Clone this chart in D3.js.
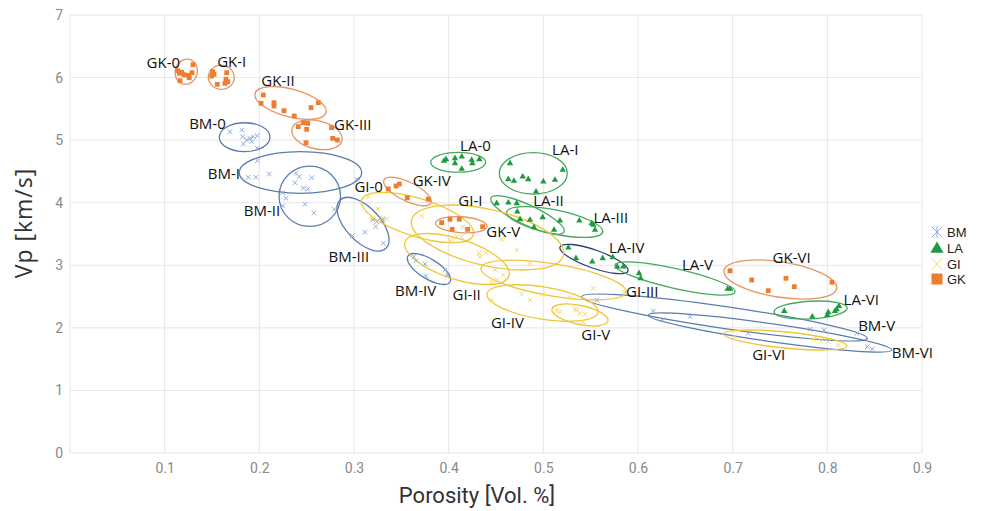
<!DOCTYPE html>
<html><head><meta charset="utf-8">
<script src="https://cdn.jsdelivr.net/npm/d3@7"></script>
<style>body{margin:0;background:#fff}svg{display:block}</style>
</head><body><svg id="c" width="981" height="511"></svg>
<script>
// ---- data ----
const xTicks = [0.1,0.2,0.3,0.4,0.5,0.6,0.7,0.8,0.9];
const yTicks = [0,1,2,3,4,5,6,7];
const seriesNames = ["BM","LA","GI","GK"];

const bmPoints = [
 [0.1690,5.135],[0.1814,5.162],[0.1824,5.055],[0.1866,5.002],[0.1901,5.029],[0.1936,5.055],[0.1979,5.071],[0.1831,4.938],[0.1919,4.975],[0.1979,4.870],
 [0.1979,4.672],[0.1883,4.406],[0.1965,4.406],[0.2105,4.459],[0.3029,4.374],
 [0.2387,4.470],[0.2422,4.416],[0.2377,4.320],[0.2464,4.230],[0.2511,4.214],[0.2553,4.400],[0.2247,4.160],[0.2282,4.071],[0.2247,3.947],[0.2482,3.975],[0.2577,3.840],[0.2792,3.895],
 [0.3198,3.724],[0.3240,3.697],[0.3303,3.724],[0.3229,3.617],[0.3116,3.527],[0.2982,3.473],[0.3310,3.351],
 [0.3634,3.137],[0.3655,3.073],[0.3750,3.021],[0.3961,2.925],[0.3986,2.845],[0.3757,2.829],
 [0.5564,2.445],[0.6162,2.269],[0.6257,2.126],[0.6549,2.178],[0.7165,1.913],[0.7817,1.977],[0.7965,1.966],[0.8310,1.913],[0.8422,1.699],[0.8475,1.662]
];
const laPoints = [
 [0.3951,4.667],[0.3972,4.694],[0.4067,4.710],[0.4067,4.630],[0.4138,4.735],[0.4243,4.683],[0.4250,4.630],[0.4324,4.694],[0.4138,4.539],
 [0.4648,4.630],[0.4630,4.374],[0.4690,4.347],[0.4782,4.416],[0.4841,4.374],[0.5000,4.336],[0.5123,4.363],[0.5205,4.523],[0.4923,4.176],
 [0.4507,3.991],[0.4630,4.000],[0.4719,3.991],[0.4725,3.856],[0.4754,3.735],[0.4859,3.724],[0.4901,3.607],[0.4993,3.767],[0.5113,3.564],
 [0.5176,3.713],[0.5380,3.713],[0.5511,3.671],[0.5528,3.644],[0.5546,3.564],
 [0.5264,3.281],[0.5345,3.112],[0.5517,3.057],[0.5627,3.112],[0.5733,3.128],[0.5781,2.977],[0.5845,2.977],
 [0.6011,2.872],[0.6028,2.792],[0.6947,2.621],[0.6972,2.621],
 [0.7545,2.269],[0.7841,2.178],[0.8000,2.205],[0.8010,2.249],[0.8081,2.269],[0.8099,2.297],[0.8123,2.349]
];
const giPoints = [
 [0.3151,4.096],[0.3198,3.751],[0.3303,3.751],[0.3345,3.735],[0.3254,3.900],
 [0.3715,3.788],[0.4032,3.377],[0.4085,3.457],[0.4138,3.457],[0.4190,3.564],[0.4014,3.393],[0.4560,3.415],[0.4719,3.244],[0.4859,3.021],[0.4148,3.607],
 [0.4324,3.192],[0.4331,3.137],[0.4394,3.201],[0.4489,2.925],[0.4577,2.845],[0.4507,2.765],[0.4455,2.738],
 [0.5528,2.632],[0.5852,2.578],[0.5282,2.482],
 [0.4455,2.445],[0.4771,2.536],[0.4859,2.445],[0.4993,2.536],[0.5141,2.274],
 [0.5335,2.297],[0.5352,2.285],[0.5387,2.233],[0.5440,2.217],[0.5416,2.098],[0.5176,2.258],
 [0.7024,1.849],[0.7852,1.817],[0.7930,1.795],[0.8010,1.779],[0.8116,1.726]
];
const gkPoints = [
 [0.1138,6.110],[0.1155,6.068],[0.1180,6.084],[0.1204,6.046],[0.1250,6.036],[0.1260,5.998],[0.1289,6.078],[0.1299,6.206],[0.1162,5.950],
 [0.1507,6.094],[0.1521,6.052],[0.1497,6.025],[0.1556,5.893],[0.1655,6.078],[0.1648,5.972],[0.1666,5.934],[0.1637,5.908],
 [0.2042,5.722],[0.2018,5.589],[0.2155,5.598],[0.2155,5.546],[0.2261,5.471],[0.2369,5.386],[0.2546,5.519],[0.2623,5.598],
 [0.2412,5.215],[0.2464,5.279],[0.2511,5.269],[0.2500,5.173],[0.2764,5.199],[0.2775,5.029],[0.2824,5.002],[0.2493,4.959],
 [0.3362,4.219],[0.3444,4.267],[0.3479,4.299],[0.3563,4.080],[0.3785,4.059],
 [0.3926,3.681],[0.4014,3.735],[0.4112,3.735],[0.4038,3.575],[0.4201,3.575],[0.4359,3.617],
 [0.6972,2.913],[0.7201,2.765],[0.7376,2.594],[0.7563,2.792],[0.7651,2.658],[0.8049,2.728]
];

// ellipses: [x1, y1, x2, y2, minor/major ratio] (major-axis endpoints in data units)
const ellipseGroups = ["BM","BM","BM","BM","BM","BM","BM","LA","LA","LA","LA","LA","LA","LA","GI","GI","GI","GI","GI","GI","GI","GK","GK","GK","GK","GK","GK","GK"];
const ellipseNames = ["BM-0","BM-I","BM-II","BM-III","BM-IV","BM-V","BM-VI","LA-0","LA-I","LA-II","LA-III","LA-IV","LA-V","LA-VI","GI-0","GI-I","GI-II","GI-III","GI-IV","GI-V","GI-VI","GK-0","GK-I","GK-II","GK-III","GK-IV","GK-V","GK-VI"];
const ellipseAxes = [
 [0.1577,5.047,0.2113,5.047,0.57],
 [0.1788,4.483,0.3081,4.483,0.34],
 [0.2208,4.103,0.2858,4.103,0.98],
 [0.2852,4.043,0.3338,3.271,0.51],
 [0.3570,3.148,0.4014,2.733,0.40],
 [0.5405,2.498,0.8422,1.833,0.076],
 [0.6109,2.205,0.8680,1.646,0.073],
 [0.3810,4.646,0.4391,4.646,0.36],
 [0.4535,4.470,0.5253,4.470,0.61],
 [0.4447,4.075,0.5218,3.532,0.25],
 [0.4613,3.852,0.5627,3.532,0.245],
 [0.5176,3.292,0.5894,2.909,0.25],
 [0.5757,3.005,0.7025,2.573,0.16],
 [0.7437,2.253,0.8210,2.317,0.24],
 [0.3081,4.043,0.4260,3.484,0.325],
 [0.3609,3.724,0.5211,3.164,0.36],
 [0.3539,3.372,0.4637,2.829,0.366],
 [0.4342,2.957,0.5873,2.573,0.218],
 [0.4405,2.541,0.5577,2.253,0.285],
 [0.5091,2.301,0.5683,2.110,0.33],
 [0.6908,1.902,0.8208,1.710,0.13],
 [0.1262,6.289,0.1194,5.897,0.87],
 [0.1463,6.041,0.1733,5.969,0.93],
 [0.1954,5.745,0.2704,5.442,0.38],
 [0.2345,5.178,0.2873,4.994,0.55],
 [0.3317,4.363,0.3813,3.996,0.36],
 [0.3861,3.676,0.4405,3.620,0.31],
 [0.6908,2.913,0.8099,2.632,0.31]
];
// label anchor (centre of the text) in data units
const labelText = ["GK-0","GK-I","GK-II","GK-III","BM-0","BM-I","BM-II","BM-III","GI-0","GK-IV","LA-0","LA-I","GI-I","LA-II","LA-III","GK-V","LA-IV","LA-V","GI-III","GI-V","BM-IV","GI-II","GI-IV","GK-VI","LA-VI","BM-V","BM-VI","GI-VI"];
const labelX = [0.0986,0.1708,0.2197,0.2987,0.1452,0.1625,0.2028,0.2945,0.3155,0.3821,0.4283,0.5232,0.4229,0.5055,0.5713,0.4577,0.5881,0.6628,0.6045,0.5554,0.3650,0.4190,0.4621,0.7623,0.8358,0.8521,0.8899,0.7381];
const labelY = [6.241,6.260,5.948,5.245,5.261,4.462,3.876,3.145,4.256,4.363,4.910,4.843,4.035,4.035,3.769,3.540,3.284,3.005,2.589,1.899,2.597,2.533,2.090,3.124,2.458,2.033,1.606,1.579];

// ---- drawing ----
const svg = d3.select("#c");
const x = d3.scaleLinear().domain([0,0.9]).range([70,922]);
const y = d3.scaleLinear().domain([0,7]).range([453,15]);

const markerColor = {BM:"#8eaadb", LA:"#1f9a40", GI:"#f7d670", GK:"#ed7d31"};
const ellipseColor = {BM:"#5a7cae", LA:"#45a860", GI:"#f2c535", GK:"#e89460"};

// grid
const grid = svg.append("g");
grid.selectAll("line.h").data(yTicks).join("line")
  .attr("x1",x(0)).attr("x2",x(0.9)).attr("y1",d=>y(d)).attr("y2",d=>y(d))
  .attr("stroke","#e6e6e6").attr("stroke-width",1);
grid.selectAll("line.v").data([0].concat(xTicks)).join("line")
  .attr("y1",y(0)).attr("y2",y(7)).attr("x1",d=>x(d)).attr("x2",d=>x(d))
  .attr("stroke","#e6e6e6").attr("stroke-width",1);

// axes
const xAxis = svg.append("g").attr("transform",`translate(0,${y(0)})`)
  .call(d3.axisBottom(x).tickValues(xTicks).tickSize(0).tickPadding(10).tickFormat(d3.format(".1f")));
const yAxis = svg.append("g").attr("transform",`translate(${x(0)},0)`)
  .call(d3.axisLeft(y).tickValues(yTicks).tickSize(0).tickPadding(7).tickFormat(d3.format("d")));
[xAxis,yAxis].forEach(a=>{
  a.select(".domain").remove();
  a.selectAll("text").attr("fill","#8a8a8a").style("font-family","'Liberation Sans Narrow','Roboto',sans-serif").style("font-size","14px");
});

svg.append("text").attr("x",477).attr("y",503).attr("text-anchor","middle")
  .style("font-family","'Liberation Sans Narrow','Roboto',sans-serif").style("font-size","22px").attr("fill","#333")
  .text("Porosity [Vol. %]");
svg.append("text").attr("transform","translate(32,223) rotate(-90)").attr("text-anchor","middle")
  .style("font-family","'Open Sans',sans-serif").style("font-size","23px").attr("fill","#333").attr("letter-spacing","1px")
  .text("Vp [km/s]");

// ellipses
const ell = ellipseAxes.map((e,i)=>{
  const px1=x(e[0]),py1=y(e[1]),px2=x(e[2]),py2=y(e[3]);
  const a=Math.hypot(px2-px1,py2-py1)/2;
  return {g:ellipseGroups[i],name:ellipseNames[i],cx:(px1+px2)/2,cy:(py1+py2)/2,a:a,b:a*e[4],ang:Math.atan2(py2-py1,px2-px1)*180/Math.PI};
});
svg.append("g").selectAll("ellipse").data(ell).join("ellipse")
  .attr("transform",d=>`translate(${d.cx},${d.cy}) rotate(${d.ang})`)
  .attr("rx",d=>d.a).attr("ry",d=>d.b).attr("fill","none")
  .attr("stroke",d=>d.name==="LA-IV"?"#2e3f78":ellipseColor[d.g]).attr("stroke-width",1.3);

// markers
function star(g,cx,cy,s,c){
  g.append("path").attr("d",`M${cx-s},${cy-s}L${cx+s},${cy+s}M${cx-s},${cy+s}L${cx+s},${cy-s}`).attr("stroke",c).attr("stroke-width",1);
}
const mk = svg.append("g");
giPoints.forEach(p=>star(mk,x(p[0]),y(p[1]),2.3,markerColor.GI));
bmPoints.forEach(p=>star(mk,x(p[0]),y(p[1]),2.3,markerColor.BM));
mk.selectAll("path.la").data(laPoints).join("path").attr("class","la")
  .attr("d",d3.symbol(d3.symbolTriangle,18)).attr("transform",d=>`translate(${x(d[0])},${y(d[1])})`).attr("fill",markerColor.LA);
mk.selectAll("rect.gk").data(gkPoints).join("rect").attr("class","gk")
  .attr("x",d=>x(d[0])-2.4).attr("y",d=>y(d[1])-2.4).attr("width",4.8).attr("height",4.8).attr("fill",markerColor.GK);

// labels
svg.append("g").selectAll("text").data(labelText).join("text")
  .attr("x",(d,i)=>x(labelX[i])).attr("y",(d,i)=>y(labelY[i])+5.5).attr("text-anchor","middle")
  .style("font-family","'Open Sans',sans-serif").style("font-size","15px").attr("fill","#111").text(d=>d);

// legend
const lg = svg.append("g");
const lgY = [232,248,264,279];
seriesNames.forEach((n,i)=>{
  const cy=lgY[i], cx=937;
  if(n==="BM"){ star(lg,cx,cy,5,markerColor.BM); lg.append("path").attr("d",`M${cx},${cy-6}L${cx},${cy+6}`).attr("stroke",markerColor.BM).attr("stroke-width",1); }
  if(n==="GI"){ star(lg,cx,cy,5.5,markerColor.GI); }
  if(n==="LA"){ lg.append("path").attr("d",d3.symbol(d3.symbolTriangle,75)()).attr("transform",`translate(${cx},${cy+1})`).attr("fill",markerColor.LA); }
  if(n==="GK"){ lg.append("rect").attr("x",cx-5.5).attr("y",cy-5.5).attr("width",11).attr("height",11).attr("fill",markerColor.GK); }
  lg.append("text").attr("x",947).attr("y",cy+4.5).style("font-family","'Liberation Sans',sans-serif").style("font-size","13px").attr("fill","#222").text(n);
});
</script></body></html>
